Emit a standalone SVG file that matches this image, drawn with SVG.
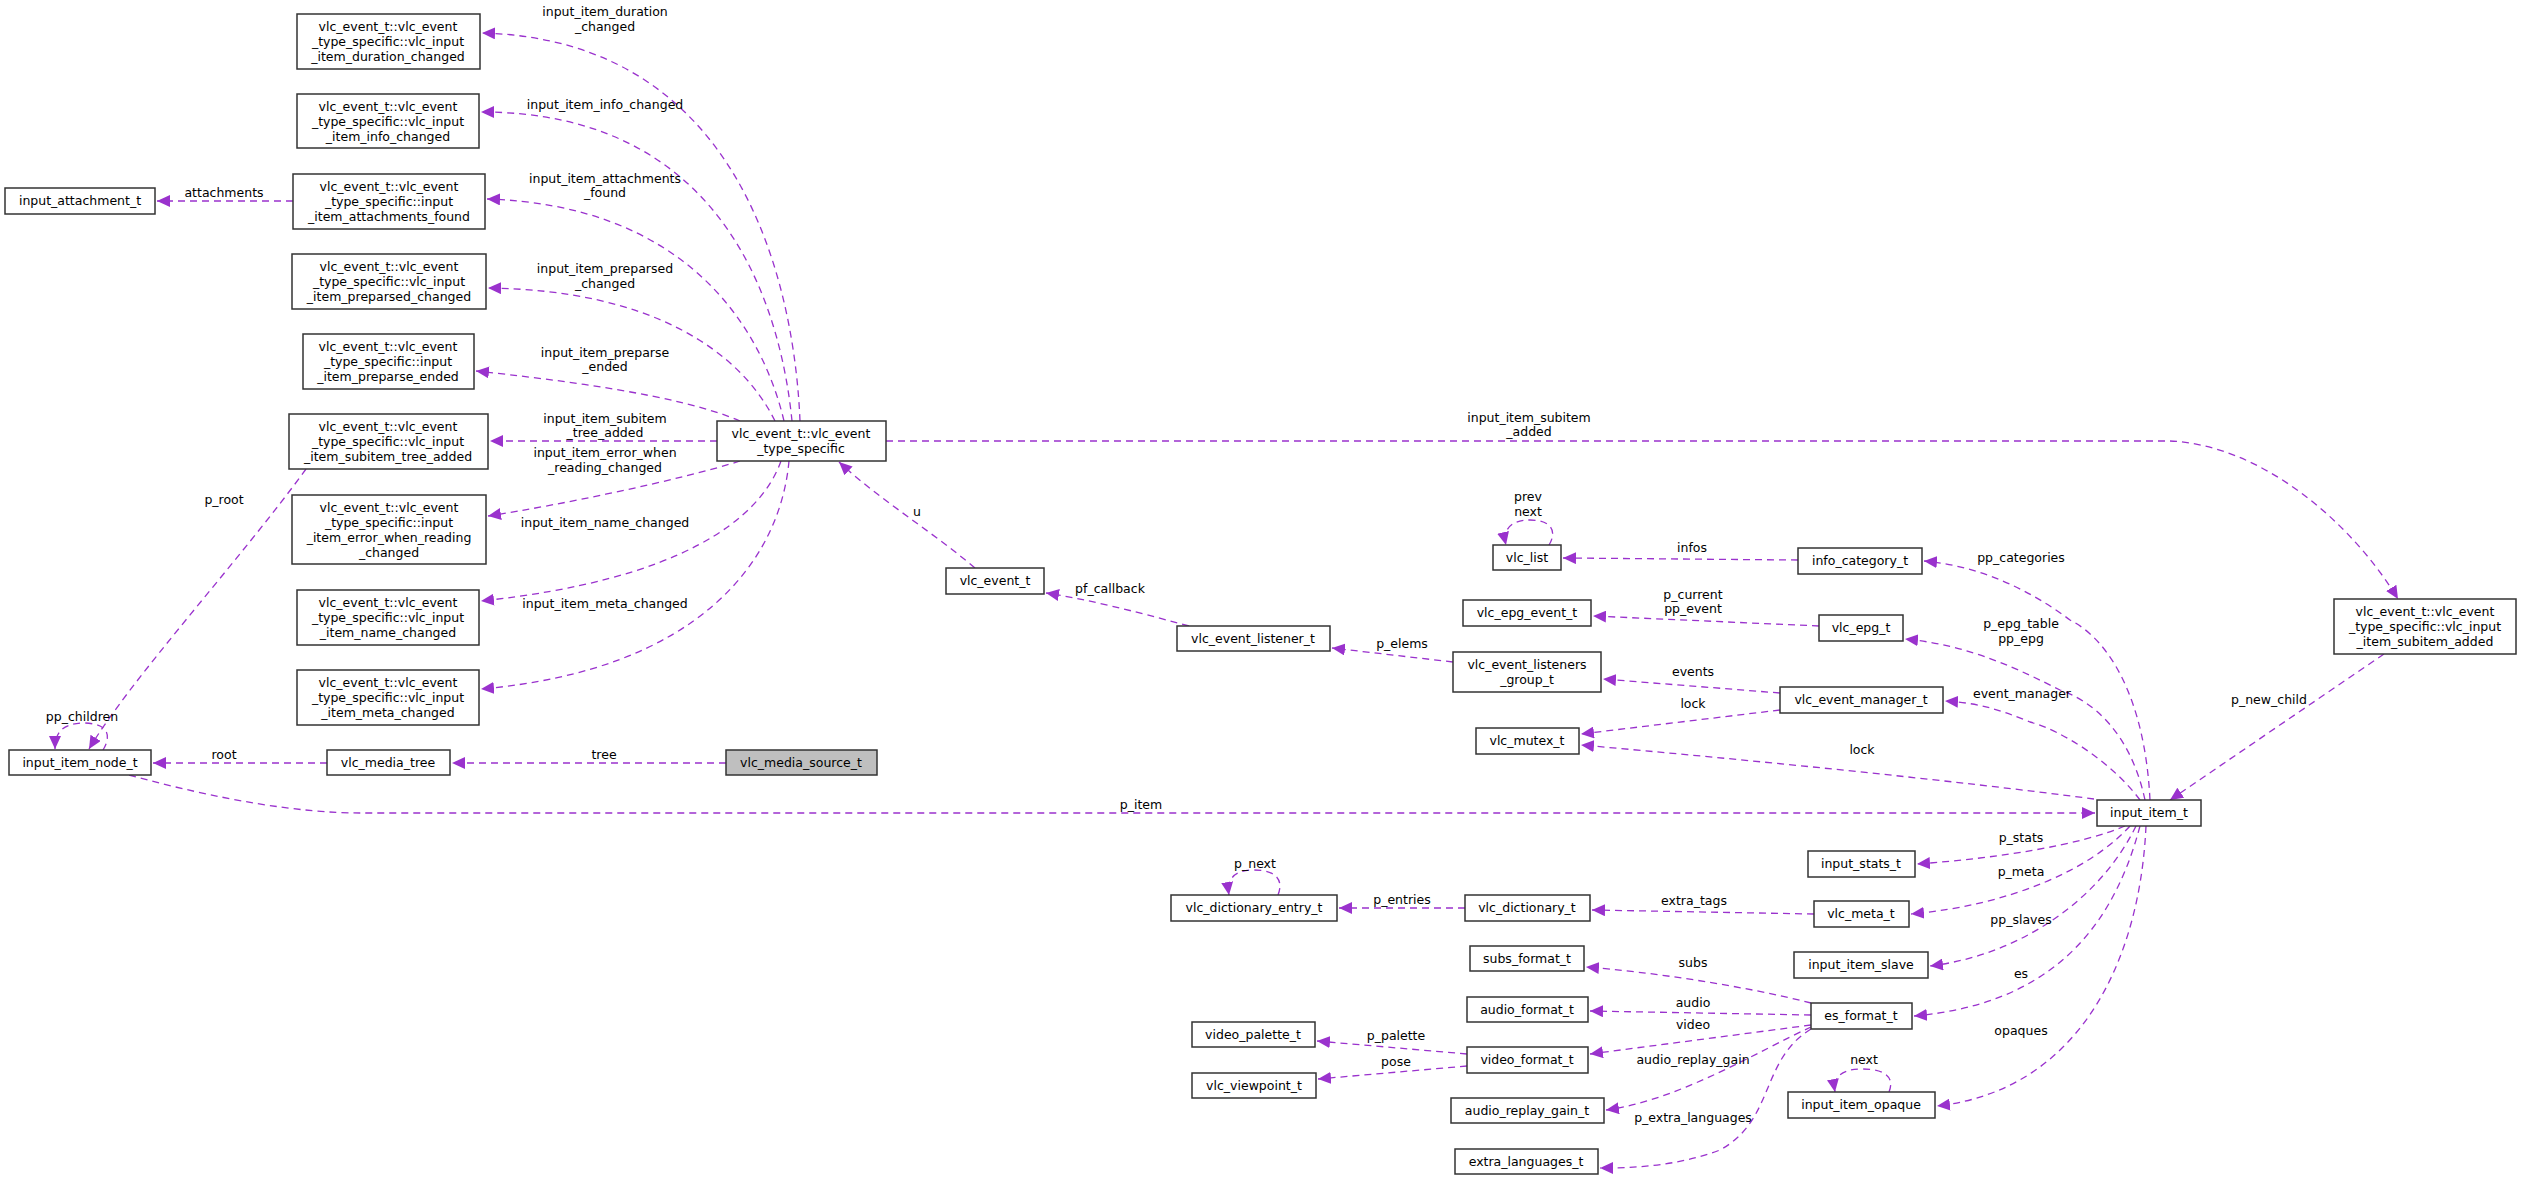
<svg xmlns="http://www.w3.org/2000/svg" width="2521" height="1180" viewBox="0 0 2521 1180">
<style>
.n rect{fill:#fff;stroke:#333;stroke-width:1.5}
.g rect{fill:#bfbfbf}
text{font-family:"DejaVu Sans",sans-serif;font-size:12.5px;fill:#000;text-anchor:middle}
.e path{fill:none;stroke:#9a32cd;stroke-width:1.3;stroke-dasharray:7,5;marker-end:url(#a)}
</style>
<defs><marker id="a" markerUnits="userSpaceOnUse" markerWidth="14" markerHeight="12" refX="13" refY="6" orient="auto"><path d="M0,0 L13,6 L0,12 z" fill="#9a32cd"/></marker></defs>
<rect width="2521" height="1180" fill="#fff"/>
<g id="connectors" class="e">
<path d="M800,421 C795,300 750,40 482,33"/>
<path d="M792,421 C780,300 720,112 481,112"/>
<path d="M784,421 C760,320 680,205 487,199"/>
<path d="M775,421 C740,350 650,290 488,288"/>
<path d="M740,421 C680,395 560,380 476,371"/>
<path d="M717,441 L490,441"/>
<path d="M740,461 C680,480 560,505 488,516"/>
<path d="M781,461 C760,520 680,580 481,601"/>
<path d="M789,461 C780,560 700,670 481,689"/>
<path d="M293,201 L157,201"/>
<path d="M306,469 C240,560 130,680 89,749"/>
<path d="M103,750 C112,735 108,724 85,723 C60,723 55,735 55,749"/>
<path d="M327,763 L153,763"/>
<path d="M726,763 L452,763"/>
<path d="M129,775 C220,800 300,813 360,813 L2095,813"/>
<path d="M975,568 C930,530 880,500 839,462"/>
<path d="M1189,626 C1130,610 1090,600 1046,593"/>
<path d="M1453,662 L1332,648"/>
<path d="M1780,693 L1603,679"/>
<path d="M1780,710 L1581,734"/>
<path d="M2094,799 C1950,780 1750,760 1581,745"/>
<path d="M1819,626 L1593,616"/>
<path d="M1798,560 L1563,558"/>
<path d="M1549,545 C1558,530 1550,520 1530,520 C1508,520 1503,532 1506,545"/>
<path d="M2150,800 C2145,700 2110,640 2070,620 C2030,590 1980,566 1924,561"/>
<path d="M2145,800 C2130,730 2090,700 2060,690 C2020,670 1970,645 1905,639"/>
<path d="M2140,800 C2110,760 2060,730 2030,722 C2000,710 1980,703 1945,701"/>
<path d="M2125,826 C2080,845 2000,858 1917,864"/>
<path d="M2130,826 C2090,870 2010,905 1911,914"/>
<path d="M2136,826 C2100,900 2020,955 1930,966"/>
<path d="M2140,826 C2110,940 2040,1005 1914,1016"/>
<path d="M2146,826 C2140,960 2080,1090 1937,1106"/>
<path d="M1889,1092 C1895,1077 1885,1069 1862,1069 C1838,1069 1833,1080 1835,1092"/>
<path d="M2384,654 L2170,800"/>
<path d="M886,441 L2170,441 C2260,445 2350,520 2398,599"/>
<path d="M1278,895 C1284,880 1276,870 1254,870 C1232,870 1227,881 1229,895"/>
<path d="M1465,908 L1339,908"/>
<path d="M1814,914 L1592,910"/>
<path d="M1811,1003 C1740,985 1650,972 1586,967"/>
<path d="M1811,1015 L1590,1011"/>
<path d="M1811,1025 L1590,1054"/>
<path d="M1811,1027 C1760,1050 1680,1100 1606,1110"/>
<path d="M1811,1029 C1760,1060 1775,1120 1720,1150 C1680,1165 1640,1168 1600,1168"/>
<path d="M1467,1054 L1317,1041"/>
<path d="M1467,1066 L1318,1079"/>
</g>
<g font-size="12.5">
<text x="605" y="16">input_item_duration</text><text x="605" y="31">_changed</text>
<text x="605" y="109">input_item_info_changed</text>
<text x="605" y="183">input_item_attachments</text><text x="605" y="197">_found</text>
<text x="605" y="273">input_item_preparsed</text><text x="605" y="288">_changed</text>
<text x="605" y="357">input_item_preparse</text><text x="605" y="371">_ended</text>
<text x="605" y="423">input_item_subitem</text><text x="605" y="437">_tree_added</text>
<text x="605" y="457">input_item_error_when</text><text x="605" y="472">_reading_changed</text>
<text x="605" y="527">input_item_name_changed</text>
<text x="605" y="608">input_item_meta_changed</text>
<text x="224" y="197">attachments</text>
<text x="224" y="504">p_root</text>
<text x="82" y="721">pp_children</text>
<text x="224" y="759">root</text>
<text x="604" y="759">tree</text>
<text x="1141" y="809">p_item</text>
<text x="917" y="516">u</text>
<text x="1110" y="593">pf_callback</text>
<text x="1529" y="422">input_item_subitem</text><text x="1529" y="436">_added</text>
<text x="1528" y="501">prev</text><text x="1528" y="516">next</text>
<text x="1692" y="552">infos</text>
<text x="1693" y="599">p_current</text><text x="1693" y="613">pp_event</text>
<text x="1402" y="648">p_elems</text>
<text x="1693" y="676">events</text>
<text x="1693" y="708">lock</text>
<text x="1862" y="754">lock</text>
<text x="2021" y="562">pp_categories</text>
<text x="2021" y="628">p_epg_table</text><text x="2021" y="643">pp_epg</text>
<text x="2022" y="698">event_manager</text>
<text x="2269" y="704">p_new_child</text>
<text x="2021" y="842">p_stats</text>
<text x="2021" y="876">p_meta</text>
<text x="2021" y="924">pp_slaves</text>
<text x="2021" y="978">es</text>
<text x="2021" y="1035">opaques</text>
<text x="1864" y="1064">next</text>
<text x="1255" y="868">p_next</text>
<text x="1402" y="904">p_entries</text>
<text x="1694" y="905">extra_tags</text>
<text x="1693" y="967">subs</text>
<text x="1693" y="1007">audio</text>
<text x="1693" y="1029">video</text>
<text x="1693" y="1064">audio_replay_gain</text>
<text x="1693" y="1122">p_extra_languages</text>
<text x="1396" y="1040">p_palette</text>
<text x="1396" y="1066">pose</text>
</g>
<g id="n1" class="n"><rect x="297" y="14" width="183" height="55"/><text x="388" y="31">vlc_event_t::vlc_event</text><text x="388" y="46">_type_specific::vlc_input</text><text x="388" y="61">_item_duration_changed</text></g>
<g id="n2" class="n"><rect x="297" y="94" width="182" height="54"/><text x="388" y="111">vlc_event_t::vlc_event</text><text x="388" y="126">_type_specific::vlc_input</text><text x="388" y="141">_item_info_changed</text></g>
<g id="n3" class="n"><rect x="293" y="174" width="192" height="55"/><text x="389" y="191">vlc_event_t::vlc_event</text><text x="389" y="206">_type_specific::input</text><text x="389" y="221">_item_attachments_found</text></g>
<g id="n4" class="n"><rect x="5" y="188" width="150" height="26"/><text x="80" y="205">input_attachment_t</text></g>
<g id="n5" class="n"><rect x="292" y="254" width="194" height="55"/><text x="389" y="271">vlc_event_t::vlc_event</text><text x="389" y="286">_type_specific::vlc_input</text><text x="389" y="301">_item_preparsed_changed</text></g>
<g id="n6" class="n"><rect x="303" y="334" width="171" height="55"/><text x="388" y="351">vlc_event_t::vlc_event</text><text x="388" y="366">_type_specific::input</text><text x="388" y="381">_item_preparse_ended</text></g>
<g id="n7" class="n"><rect x="289" y="414" width="199" height="55"/><text x="388" y="431">vlc_event_t::vlc_event</text><text x="388" y="446">_type_specific::vlc_input</text><text x="388" y="461">_item_subitem_tree_added</text></g>
<g id="n8" class="n"><rect x="292" y="495" width="194" height="69"/><text x="389" y="512">vlc_event_t::vlc_event</text><text x="389" y="527">_type_specific::input</text><text x="389" y="542">_item_error_when_reading</text><text x="389" y="557">_changed</text></g>
<g id="n9" class="n"><rect x="297" y="590" width="182" height="55"/><text x="388" y="607">vlc_event_t::vlc_event</text><text x="388" y="622">_type_specific::vlc_input</text><text x="388" y="637">_item_name_changed</text></g>
<g id="n10" class="n"><rect x="297" y="670" width="182" height="55"/><text x="388" y="687">vlc_event_t::vlc_event</text><text x="388" y="702">_type_specific::vlc_input</text><text x="388" y="717">_item_meta_changed</text></g>
<g id="n11" class="n"><rect x="717" y="421" width="169" height="40"/><text x="801" y="438">vlc_event_t::vlc_event</text><text x="801" y="453">_type_specific</text></g>
<g id="n12" class="n"><rect x="9" y="750" width="142" height="25"/><text x="80" y="767">input_item_node_t</text></g>
<g id="n13" class="n"><rect x="327" y="750" width="123" height="25"/><text x="388" y="767">vlc_media_tree</text></g>
<g id="n14" class="n g"><rect x="726" y="750" width="151" height="25"/><text x="801" y="767">vlc_media_source_t</text></g>
<g id="n15" class="n"><rect x="946" y="568" width="98" height="26"/><text x="995" y="585">vlc_event_t</text></g>
<g id="n16" class="n"><rect x="1177" y="626" width="153" height="25"/><text x="1253" y="643">vlc_event_listener_t</text></g>
<g id="n17" class="n"><rect x="1493" y="545" width="68" height="25"/><text x="1527" y="562">vlc_list</text></g>
<g id="n18" class="n"><rect x="1798" y="548" width="124" height="26"/><text x="1860" y="565">info_category_t</text></g>
<g id="n19" class="n"><rect x="1463" y="600" width="128" height="26"/><text x="1527" y="617">vlc_epg_event_t</text></g>
<g id="n20" class="n"><rect x="1819" y="615" width="84" height="26"/><text x="1861" y="632">vlc_epg_t</text></g>
<g id="n21" class="n"><rect x="1453" y="652" width="148" height="40"/><text x="1527" y="669">vlc_event_listeners</text><text x="1527" y="684">_group_t</text></g>
<g id="n22" class="n"><rect x="1780" y="687" width="163" height="26"/><text x="1861" y="704">vlc_event_manager_t</text></g>
<g id="n23" class="n"><rect x="1476" y="728" width="103" height="26"/><text x="1527" y="745">vlc_mutex_t</text></g>
<g id="n24" class="n"><rect x="2334" y="599" width="182" height="55"/><text x="2425" y="616">vlc_event_t::vlc_event</text><text x="2425" y="631">_type_specific::vlc_input</text><text x="2425" y="646">_item_subitem_added</text></g>
<g id="n25" class="n"><rect x="2097" y="800" width="104" height="26"/><text x="2149" y="817">input_item_t</text></g>
<g id="n26" class="n"><rect x="1808" y="851" width="107" height="26"/><text x="1861" y="868">input_stats_t</text></g>
<g id="n27" class="n"><rect x="1171" y="895" width="166" height="26"/><text x="1254" y="912">vlc_dictionary_entry_t</text></g>
<g id="n28" class="n"><rect x="1465" y="895" width="125" height="26"/><text x="1527" y="912">vlc_dictionary_t</text></g>
<g id="n29" class="n"><rect x="1814" y="901" width="95" height="26"/><text x="1861" y="918">vlc_meta_t</text></g>
<g id="n30" class="n"><rect x="1470" y="946" width="114" height="25"/><text x="1527" y="963">subs_format_t</text></g>
<g id="n31" class="n"><rect x="1794" y="952" width="134" height="26"/><text x="1861" y="969">input_item_slave</text></g>
<g id="n32" class="n"><rect x="1467" y="997" width="121" height="25"/><text x="1527" y="1014">audio_format_t</text></g>
<g id="n33" class="n"><rect x="1811" y="1003" width="101" height="26"/><text x="1861" y="1020">es_format_t</text></g>
<g id="n34" class="n"><rect x="1192" y="1022" width="123" height="25"/><text x="1253" y="1039">video_palette_t</text></g>
<g id="n35" class="n"><rect x="1467" y="1047" width="121" height="26"/><text x="1527" y="1064">video_format_t</text></g>
<g id="n36" class="n"><rect x="1192" y="1073" width="124" height="25"/><text x="1254" y="1090">vlc_viewpoint_t</text></g>
<g id="n37" class="n"><rect x="1451" y="1098" width="153" height="25"/><text x="1527" y="1115">audio_replay_gain_t</text></g>
<g id="n38" class="n"><rect x="1788" y="1092" width="147" height="26"/><text x="1861" y="1109">input_item_opaque</text></g>
<g id="n39" class="n"><rect x="1455" y="1149" width="143" height="25"/><text x="1526" y="1166">extra_languages_t</text></g>
</svg>
